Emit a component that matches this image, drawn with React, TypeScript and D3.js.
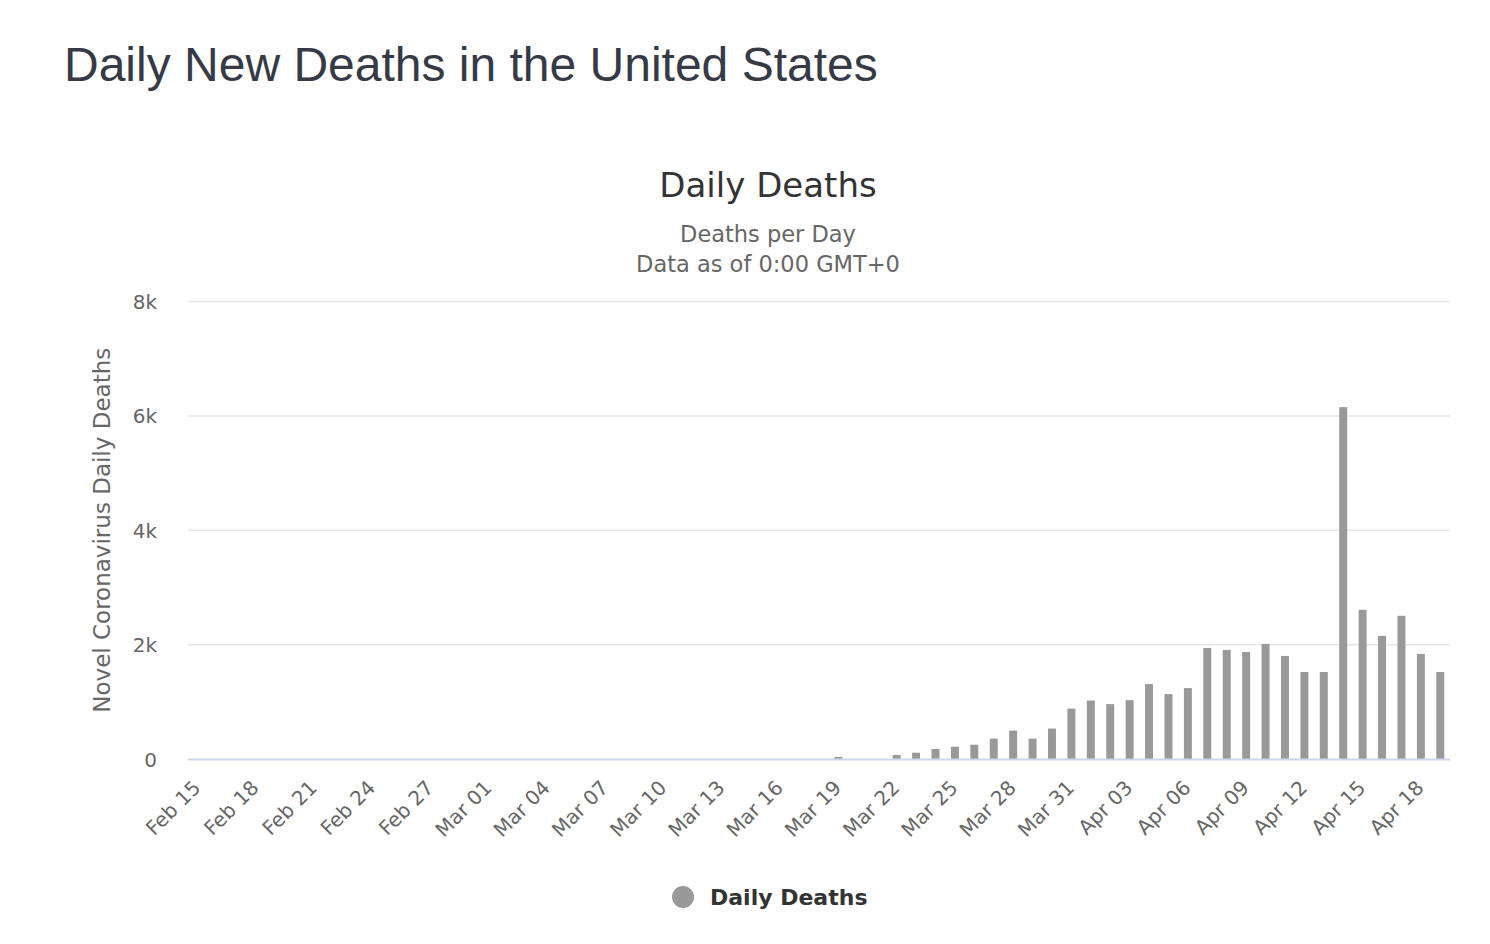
import React from "react";
import * as d3 from "d3";

const categories: string[] = [
  "Feb 15","Feb 16","Feb 17","Feb 18","Feb 19","Feb 20","Feb 21","Feb 22","Feb 23","Feb 24",
  "Feb 25","Feb 26","Feb 27","Feb 28","Feb 29","Mar 01","Mar 02","Mar 03","Mar 04","Mar 05",
  "Mar 06","Mar 07","Mar 08","Mar 09","Mar 10","Mar 11","Mar 12","Mar 13","Mar 14","Mar 15",
  "Mar 16","Mar 17","Mar 18","Mar 19","Mar 20","Mar 21","Mar 22","Mar 23","Mar 24","Mar 25",
  "Mar 26","Mar 27","Mar 28","Mar 29","Mar 30","Mar 31","Apr 01","Apr 02","Apr 03","Apr 04",
  "Apr 05","Apr 06","Apr 07","Apr 08","Apr 09","Apr 10","Apr 11","Apr 12","Apr 13","Apr 14",
  "Apr 15","Apr 16","Apr 17","Apr 18","Apr 19",
];

const dailyDeaths: number[] = [
  0, 0, 0, 0, 0, 0, 0, 0, 0, 0,
  0, 0, 0, 0, 0, 0, 0, 0, 0, 0,
  0, 0, 0, 0, 0, 0, 0, 0, 0, 0,
  0, 0, 0, 35, 0, 0, 70, 110, 175, 216,
  250, 356, 497, 356, 532, 882, 1023, 960, 1030, 1310,
  1135, 1240, 1942, 1907, 1872, 2012, 1802, 1521, 1521, 6153,
  2609, 2153, 2504, 1837, 1521,
];

const yTicks: number[] = [0, 2000, 4000, 6000, 8000];
const yTickLabels: string[] = ["0", "2k", "4k", "6k", "8k"];

const W = 1490;
const H = 944;
const left = 188;
const right = 1450;
const top = 301.5;
const bottom = 759;
const FONT = "'DejaVu Sans', 'Lucida Grande', Verdana, sans-serif";

export default function App() {
  const x = d3
    .scaleBand<string>()
    .domain(categories)
    .range([left, right])
    .paddingInner(0.59)
    .paddingOuter(0.295);
  const y = d3.scaleLinear().domain([0, 8000]).range([bottom, top]);

  const labelCats = categories.filter((_, i) => i % 3 === 0);

  return (
    <svg
      width={W}
      height={H}
      style={{ position: "absolute", left: 0, top: 0, background: "#fff" }}
    >
      <text
        x={64}
        y={81}
        fontFamily="'Liberation Sans', Arial, Helvetica, sans-serif"
        fontSize={48}
        fill="#363a47"
      >
        Daily New Deaths in the United States
      </text>

      <text x={768} y={197} textAnchor="middle" fontFamily={FONT} fontSize={34} fill="#333333">
        Daily Deaths
      </text>
      <text x={768} y={242} textAnchor="middle" fontFamily={FONT} fontSize={22.5} fill="#666666">
        Deaths per Day
      </text>
      <text x={768} y={272} textAnchor="middle" fontFamily={FONT} fontSize={22.5} fill="#666666">
        Data as of 0:00 GMT+0
      </text>

      {yTicks.map((t, i) => (
        <g key={t}>
          {t !== 0 && (
            <line x1={left} x2={right} y1={y(t)} y2={y(t)} stroke="#e6e6e6" strokeWidth={1.5} />
          )}
          <text
            x={157}
            y={y(t) + 7.5}
            textAnchor="end"
            fontFamily={FONT}
            fontSize={20}
            fill="#666666"
          >
            {yTickLabels[i]}
          </text>
        </g>
      ))}

      <text
        transform={`translate(110, ${(top + bottom) / 2}) rotate(-90)`}
        textAnchor="middle"
        fontFamily={FONT}
        fontSize={23}
        fill="#666666"
      >
        Novel Coronavirus Daily Deaths
      </text>

      {categories.map((c, i) => (
        <rect
          key={c}
          x={x(c)}
          y={y(dailyDeaths[i])}
          width={x.bandwidth()}
          height={bottom - y(dailyDeaths[i])}
          fill="#999999"
        />
      ))}

      <line x1={left} x2={right} y1={bottom + 0.5} y2={bottom + 0.5} stroke="#ccd6eb" strokeWidth={2} />

      {labelCats.map((c) => {
        const cx = (x(c) as number) + x.bandwidth() / 2;
        return (
          <text
            key={c}
            transform={`translate(${cx + 4}, ${789}) rotate(-45)`}
            textAnchor="end"
            fontFamily={FONT}
            fontSize={20}
            fill="#666666"
          >
            {c}
          </text>
        );
      })}

      <circle cx={683} cy={897} r={11} fill="#999999" />
      <text x={710} y={905} fontFamily={FONT} fontSize={22} fontWeight="bold" fill="#333333">
        Daily Deaths
      </text>
    </svg>
  );
}
